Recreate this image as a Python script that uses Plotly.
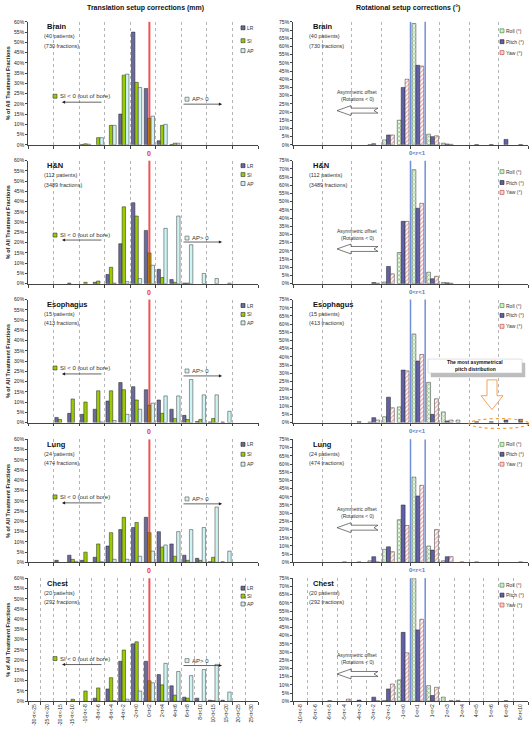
import plotly.graph_objects as go

W, H = 531, 734
FONT = "Liberation Sans, Arial, sans-serif"

# ---------------- data ----------------
trans_cats = ["-30<t<-25", "-25<t<-20", "-20<t<-15", "-15<t<-10", "-10<t<-8", "-8<t<-6",
              "-6<t<-4", "-4<t<-2", "-2<t<0", "0<t<2", "2<t<4", "4<t<6", "6<t<8",
              "8<t<10", "10<t<15", "15<t<20", "20<t<25", "25<t<30"]
rot_cats = ["-10<r<-8", "-8<r<-6", "-6<r<-5", "-5<r<-4", "-4<r<-3", "-3<r<-2", "-2<r<-1",
            "-1<r<0", "0<r<1", "1<r<2", "2<r<3", "3<r<4", "4<r<5", "5<r<6", "6<r<8", "8<r<10"]

site_names = ["Brain", "H&N", "Esophagus", "Lung", "Chest"]
site_patients = [40, 112, 15, 24, 20]
site_fractions = [730, 3489, 413, 474, 292]

brain_lr = [0, 0, 0, 0, 0.2, 0, 0, 15, 55, 27.5, 2, 0.2, 0, 0, 0, 0, 0, 0]
brain_si = [0, 0, 0, 0, 0.5, 3.5, 9.5, 34, 30.5, 13, 9.5, 0.8, 0, 0, 0, 0, 0, 0]
brain_ap = [0, 0, 0, 0, 0.3, 3.5, 9.5, 34.5, 28, 14, 10, 0.8, 0, 0, 0, 0, 0, 0]

hn_lr = [0, 0, 0, 0.3, 0, 0.7, 4.5, 19.5, 39.5, 26, 7, 2, 0.3, 0, 0, 0, 0, 0]
hn_si = [0, 0, 0, 0, 0.7, 1.3, 8, 37.5, 33, 15, 3, 0.7, 0.3, 0, 0, 0, 0, 0]
hn_ap = [0, 0, 0, 0, 0, 0, 0.3, 1, 2.5, 9, 27, 33, 19, 5, 2.5, 0.3, 0, 0]

eso_lr = [0, 0, 2.5, 4.5, 4, 6.5, 10.5, 19.5, 17.5, 16, 11, 6.5, 3.5, 0.5, 0.3, 0.3, 0, 0]
eso_si = [0, 0, 1.5, 11.5, 10, 15.5, 15.5, 16, 11, 8.5, 4.5, 2, 1.5, 1.5, 2, 0, 0, 0]
eso_ap = [0, 0, 0, 0, 0, 0.3, 1, 4, 6.5, 9.5, 13, 13, 21, 13.5, 13.5, 5.5, 0, 0]

lung_lr = [0, 0, 1, 3.5, 1, 2.5, 8, 16, 17, 22, 15, 9, 3.5, 2, 0.3, 0.3, 0, 0]
lung_si = [0, 0, 0, 1.5, 5, 9, 14.5, 22, 19.5, 14.5, 7.5, 3, 1, 1, 2.5, 0, 0, 0]
lung_ap = [0, 0, 0, 0.5, 0, 0.3, 1.5, 1.5, 3, 5.5, 8.5, 15, 16, 17, 27, 5.5, 0, 0]

chest_lr = [0, 0, 0, 0, 0, 1.5, 6, 19.5, 28, 19.5, 13, 7.5, 2, 1.5, 0.5, 0.5, 0, 0]
chest_si = [0, 0, 0, 1, 5, 6.5, 11.5, 25, 29, 10, 8, 3, 1.5, 0, 0.3, 0, 0, 0]
chest_ap = [0, 0, 0, 0, 0, 0, 0.3, 1, 5, 9, 18.5, 14.5, 12.5, 15.5, 18, 4.5, 0, 0]

brain_roll = [0, 0, 0, 0, 0, 0.2, 3, 15, 74, 6.5, 1, 0, 0, 0, 0, 0]
brain_pitch = [0, 0, 0, 0, 0, 0.7, 6, 35, 48.5, 5, 0.5, 0, 0.2, 0.2, 3.3, 0.2]
brain_yaw = [0, 0, 0, 0, 0, 0, 6, 40, 48, 5.5, 0.3, 0, 0, 0, 0, 0]

hn_roll = [0, 0, 0, 0, 0, 0, 1, 19, 69.5, 7, 0.7, 0, 0, 0, 0, 0]
hn_pitch = [0, 0, 0, 0, 0, 0.7, 10.5, 38, 46, 3, 0.5, 0, 0, 0, 0, 0]
hn_yaw = [0, 0, 0, 0, 0, 0.3, 6, 38, 49, 4.5, 0.3, 0, 0, 0, 0, 0]

eso_roll = [0, 0, 0, 0, 0, 0.3, 3.5, 9.5, 54, 24.5, 6.5, 1.5, 0, 0, 0, 0]
eso_pitch = [0, 0, 0, 0, 0.5, 3, 15.5, 32, 37.5, 5, 1, 0, 0.5, 0.5, 1.5, 2]
eso_yaw = [0, 0, 0, 0, 0, 1.5, 9, 31.5, 41.5, 14.5, 1.5, 0, 0, 0, 0, 0]

lung_roll = [0, 0, 0, 0, 0, 1, 8, 26, 52, 10, 1, 0, 0, 0, 0, 0]
lung_pitch = [0, 0, 0, 0.3, 0.3, 3.5, 9.5, 35, 40.5, 7.5, 3.5, 0.3, 0.3, 0, 0, 0.3]
lung_yaw = [0, 0, 0, 0, 0, 0.3, 6.5, 22.5, 47, 20, 3.5, 0, 0, 0, 0, 0]

chest_roll = [0, 0, 0, 0, 0, 0, 0.5, 13, 75, 9.5, 2.5, 0.5, 0, 0, 0, 0]
chest_pitch = [0, 0, 0.3, 0, 0.7, 2.5, 7.5, 42, 43.5, 3.5, 0, 0, 0, 0, 0.3, 0]
chest_yaw = [0, 0, 0, 1.3, 0, 0.3, 10.5, 29.5, 50, 8.5, 0.5, 0, 0, 0, 0, 0]

trans_names = ["LR", "SI", "AP"]
rot_names = ["Roll (°)", "Pitch (°)", "Yaw (°)"]

trans_data = [(brain_lr, brain_si, brain_ap), (hn_lr, hn_si, hn_ap), (eso_lr, eso_si, eso_ap),
              (lung_lr, lung_si, lung_ap), (chest_lr, chest_si, chest_ap)]
rot_data = [(brain_roll, brain_pitch, brain_yaw), (hn_roll, hn_pitch, hn_yaw),
            (eso_roll, eso_pitch, eso_yaw), (lung_roll, lung_pitch, lung_yaw),
            (chest_roll, chest_pitch, chest_yaw)]

# ---------------- styles / layout geometry ----------------
ROW_TOPS = [19, 159, 299, 440, 580]
PH = 124
LEFT_X = (28, 258)
RIGHT_X = (293, 528)

trans_markers = [
    dict(color="#6a6a9c", line=dict(color="#222", width=0.5)),
    dict(color="#99cc00", line=dict(color="#222", width=0.5)),
    dict(color="#cdf3f3", line=dict(color="#333", width=0.5)),
]
rot_markers = [
    dict(color="#ffffff", line=dict(color="#333", width=0.5),
         pattern=dict(shape="x", fgcolor="#3c9a3c", bgcolor="#eaf7e6", size=3, solidity=0.45)),
    dict(color="#6060a8", line=dict(color="#222", width=0.5)),
    dict(color="#ffffff", line=dict(color="#333", width=0.5),
         pattern=dict(shape="/", fgcolor="#e05a5a", bgcolor="#ffffff", size=3, solidity=0.45)),
]
trans_leg_fill = [("#6a6a9c", "#222"), ("#99cc00", "#333"), ("#cdf3f3", "#333")]
rot_leg_fill = [("#cfeccb", "#2f8a2f"), ("#6060a8", "#222"), ("#fbd0d0", "#c03a3a")]


def px(x):
    return x / W


def py(y):
    return 1 - y / H


fig = go.Figure()
shapes = []
annotations = []


def txt(x, y, s, size=5.5, color="#222", xanchor="left", yanchor="middle", angle=0):
    annotations.append(dict(x=px(x), y=py(y), xref="paper", yref="paper", text=s,
                            showarrow=False, xanchor=xanchor, yanchor=yanchor,
                            textangle=angle, borderpad=0,
                            font=dict(size=size, color=color, family=FONT)))


def rect(x0, y0, x1, y1, fill, line, lw=0.6, dash="solid"):
    shapes.append(dict(type="rect", xref="paper", yref="paper", x0=px(x0), x1=px(x1),
                       y0=py(y1), y1=py(y0), fillcolor=fill,
                       line=dict(color=line, width=lw, dash=dash), layer="above"))


def path(points, fill, line, lw=0.8):
    d = "M " + " L ".join(f"{px(a):.5f},{py(b):.5f}" for a, b in points) + " Z"
    shapes.append(dict(type="path", xref="paper", yref="paper", path=d, fillcolor=fill,
                       line=dict(color=line, width=lw), layer="above"))


def arrow(hx, hy, tx, ty):
    annotations.append(dict(x=px(hx), y=py(hy), xref="paper", yref="paper", text="",
                            showarrow=True, ax=tx - hx, ay=ty - hy, arrowhead=2,
                            arrowsize=0.9, arrowwidth=0.7, arrowcolor="#222"))


layout = dict(width=W, height=H, margin=dict(l=0, r=0, t=0, b=0),
              paper_bgcolor="white", plot_bgcolor="white", barmode="group",
              bargap=0.2, bargroupgap=0.0, showlegend=False,
              font=dict(family=FONT, size=5, color="#222"))

si_rel = [75, 75, 69, 58, 81]
si_arrow_rel = [81, 80, 75, 64, 87]
ap_rel = [78, 78, 72, 60, 83]
ap_arrow_rel = [83, 82, 77, 65, 88]
asym_rel = [71, 71, None, 70, 77]
asym_arrow_rel = [89.5, 89, None, 89, 96.5]
tleg_rel = [(6, 19, 29), (5, 14, 23), (6, 15, 23.5), (5, 15, 25), (10, 18, 26)]
rleg_rel = [(9, 20, 31), (11, 22, 32), (6, 16, 27), (5, 15, 25), (7, 17, 27)]

for r in range(5):
    top = ROW_TOPS[r]
    bottom = top + PH
    last = (r == 4)
    for c in range(2):
        n = 2 * r + c + 1
        xa = "x" if n == 1 else f"x{n}"
        ya = "y" if n == 1 else f"y{n}"
        xkey = "xaxis" if n == 1 else f"xaxis{n}"
        ykey = "yaxis" if n == 1 else f"yaxis{n}"
        cats = trans_cats if c == 0 else rot_cats
        xdom = LEFT_X if c == 0 else RIGHT_X
        ymax = 60 if c == 0 else 75
        layout[xkey] = dict(domain=[px(xdom[0]), px(xdom[1])], anchor=ya, type="category",
                            categoryorder="array", categoryarray=cats,
                            range=[-0.5, len(cats) - 0.5], tickson="boundaries",
                            ticks="outside", ticklen=3, tickwidth=0.6, tickcolor="#444",
                            showgrid=True, gridcolor="#b5b5b5", gridwidth=0.6, griddash="dot",
                            showline=True, linecolor="#444", linewidth=0.8,
                            showticklabels=last, tickangle=-90,
                            tickfont=dict(size=5, color="#222", family=FONT), fixedrange=True)
        layout[ykey] = dict(domain=[py(bottom), py(top)], anchor=xa, range=[0, ymax],
                            dtick=5, ticksuffix="%", ticks="outside", ticklen=2,
                            tickwidth=0.6, tickcolor="#444", showgrid=False, zeroline=False,
                            showline=True, linecolor="#444", linewidth=0.8,
                            tickfont=dict(size=5, color="#222", family=FONT), fixedrange=True)

        series = trans_data[r] if c == 0 else rot_data[r]
        names = trans_names if c == 0 else rot_names
        markers = trans_markers if c == 0 else rot_markers
        for vals, name, mk in zip(series, names, markers):
            fig.add_trace(go.Bar(x=cats, y=[v if v > 0 else None for v in vals], name=name,
                                 xaxis=xa, yaxis=ya, marker=mk, showlegend=False,
                                 hovertemplate="%{x}: %{y}%<extra>" + name + "</extra>"))

        # panel labels
        x0 = xdom[0]
        txt(x0 + (18 if c == 0 else 19), top + 5, f"<b>{site_names[r]}</b>", size=7.5, color="#111")
        txt(x0 + 15, top + 14.5, f"({site_patients[r]} patients)", size=5.5, color="#333")
        txt(x0 + 15, top + 24, f"({site_fractions[r]} fractions)", size=5.5, color="#333")

        # legend (manual, small squares)
        legrel = tleg_rel[r] if c == 0 else rleg_rel[r]
        fills = trans_leg_fill if c == 0 else rot_leg_fill
        lx = 241 if c == 0 else 500
        for k in range(3):
            yy = top + legrel[k]
            rect(lx, yy - 2, lx + 4, yy + 2, fills[k][0], fills[k][1], lw=0.6)
            txt(lx + 5, yy, names[k], size=5, color="#333")

        if c == 0:
            # red zero line
            zi = trans_cats.index("0<t<2")
            shapes.append(dict(type="line", xref=xa, yref=f"{ya} domain", x0=zi, x1=zi,
                               y0=0, y1=1, line=dict(color="rgba(235,40,40,0.8)", width=2),
                               layer="above"))
            if not last:
                annotations.append(dict(x=zi, y=0, xref=xa, yref=f"{ya} domain",
                                        yanchor="top", yshift=-3, text="<b>0</b>",
                                        showarrow=False,
                                        font=dict(size=7, color="#e83030", family=FONT)))
            # y title
            txt(8, top + PH / 2, "<b>% of All Treatment Fractions</b>", size=5.5,
                color="#222", xanchor="center", angle=-90)
            # SI / AP notes
            sy = top + si_rel[r]
            rect(53, sy - 2, 57, sy + 2, "#99cc00", "#333", lw=0.6)
            txt(59, sy, "SI < 0 (out of bore)", size=6, color="#333")
            say = top + si_arrow_rel[r]
            arrow(62, say, 103, say)
            ay_ = top + ap_rel[r]
            rect(185, ay_ - 2, 189, ay_ + 2, "#cdf3f3", "#555", lw=0.6)
            txt(191, ay_, "AP> 0", size=6, color="#333")
            aay = top + ap_arrow_rel[r]
            arrow(222, aay, 182, aay)
        else:
            zi = rot_cats.index("0<r<1")
            for xv in (zi - 0.5, zi + 0.5):
                shapes.append(dict(type="line", xref=xa, yref=f"{ya} domain", x0=xv, x1=xv,
                                   y0=0, y1=1, line=dict(color="#6f8fd8", width=1.5),
                                   layer="above"))
            if not last:
                annotations.append(dict(x=zi, y=0, xref=xa, yref=f"{ya} domain",
                                        yanchor="top", yshift=-3,
                                        text="<b>0&lt;r&lt;1</b>", showarrow=False,
                                        font=dict(size=6, color="#5580d0", family=FONT)))
            if asym_rel[r] is not None:
                t1 = top + asym_rel[r]
                txt(357, t1, "Asymmetric offset", size=5, color="#333", xanchor="center")
                txt(357, t1 + 7, "(Rotations &lt; 0)", size=5, color="#333", xanchor="center")
                cy = top + asym_arrow_rel[r]
                path([(337, cy), (351, cy - 5), (351, cy - 2.5), (378, cy - 2.5),
                      (374, cy), (378, cy + 2.5), (351, cy + 2.5), (351, cy + 5)],
                     "white", "#444", lw=0.7)
            else:
                # esophagus callout
                rect(431, 363, 525, 377, "#bdbdbd", "#bdbdbd", lw=0.5)
                rect(428, 359, 522, 373, "white", "#cfcfcf", lw=0.6)
                txt(475, 362, "<b>The most asymmetrical</b>", size=5, color="#111",
                    xanchor="center")
                txt(475, 369.5, "<b>pitch distribution</b>", size=5, color="#111",
                    xanchor="center")
                path([(487, 380), (497, 380), (497, 396), (503, 396), (492, 410),
                      (481, 396), (487, 396)], "white", "#f3a35a", lw=1)
                shapes.append(dict(type="circle", xref="paper", yref="paper",
                                   x0=px(469), x1=px(529), y0=py(429), y1=py(419),
                                   line=dict(color="#f0a040", width=1.2, dash="dot"),
                                   layer="above"))

# column titles
txt(145, 5, "<b>Translation setup corrections (mm)</b>", size=7, color="#111", xanchor="center")
txt(408, 5, "<b>Rotational setup corrections (°)</b>", size=7, color="#111", xanchor="center")

layout["shapes"] = shapes
layout["annotations"] = annotations
fig.update_layout(**layout)
fig.write_html("out.html", config={"displayModeBar": False},
               post_script="document.body.style.margin='0';document.body.style.overflow='hidden';")
